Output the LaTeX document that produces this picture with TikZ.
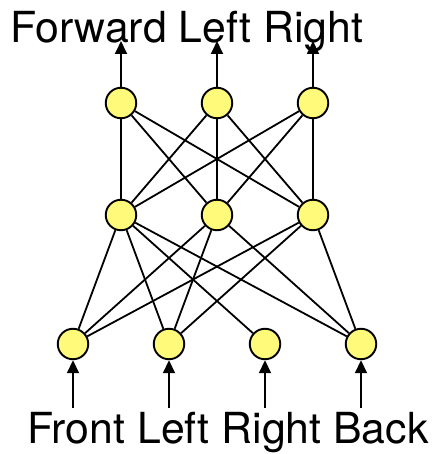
\documentclass[tikz,border=0pt]{standalone}
\usepackage{fontspec}
\setmainfont{TeX Gyre Heros}
\usetikzlibrary{arrows.meta}
\definecolor{neuron}{RGB}{255,250,122}
\begin{document}
\begin{tikzpicture}[x=1pt,y=-1pt,
  neuronnode/.style={circle,draw=black,line width=1.9pt,fill=neuron,minimum size=30.5pt,inner sep=0pt},
  link/.style={draw=black,line width=1.8pt},
  signal/.style={draw=black,line width=1.8pt,-{Triangle[length=13pt,width=12pt]}},
  caption/.style={font=\fontsize{42.8}{48}\selectfont,inner sep=0pt,anchor=base west}]
\useasboundingbox (0,0) rectangle (435,454);

% layers of the network
\node[neuronnode] (t1) at (121,103) {};
\node[neuronnode] (t2) at (217,103) {};
\node[neuronnode] (t3) at (313,103) {};
\node[neuronnode] (m1) at (121,215) {};
\node[neuronnode] (m2) at (217,215) {};
\node[neuronnode] (m3) at (313,215) {};
\node[neuronnode] (b1) at (73,344) {};
\node[neuronnode] (b2) at (169,344) {};
\node[neuronnode] (b3) at (265,344) {};
\node[neuronnode] (b4) at (361,344) {};

% hidden to output: fully connected
\foreach \i in {1,2,3}
  \foreach \j in {1,2,3}
    \path[link] (m\i) -- (t\j);

% input to hidden
\path[link] (m1) -- (b1);
\path[link] (m1) -- (b2);
\path[link] (m1) -- (b3);
\path[link] (m1) -- (b4);
\path[link] (m2) -- (b1);
\path[link] (m2) -- (b2);
\path[link] (m2) -- (b4);
\path[link] (m3) -- (b1);
\path[link] (m3) -- (b2);
\path[link] (m3) -- (b4);

% outputs
\coordinate (o1) at (121,41);
\coordinate (o2) at (217,41);
\coordinate (o3) at (313,41);
\foreach \j in {1,2,3}
  \path[signal] (t\j) -- (o\j);

% inputs
\coordinate (i1) at (73,408);
\coordinate (i2) at (169,408);
\coordinate (i3) at (265,408);
\coordinate (i4) at (361,408);
\foreach \j in {1,2,3,4}
  \path[signal] (i\j) -- (b\j);

% labels
\node[caption] (outlabel) at (10,43) {Forward Left Right};
\node[caption] (inlabel) at (27,443) {Front Left Right Back};
\end{tikzpicture}
\end{document}
